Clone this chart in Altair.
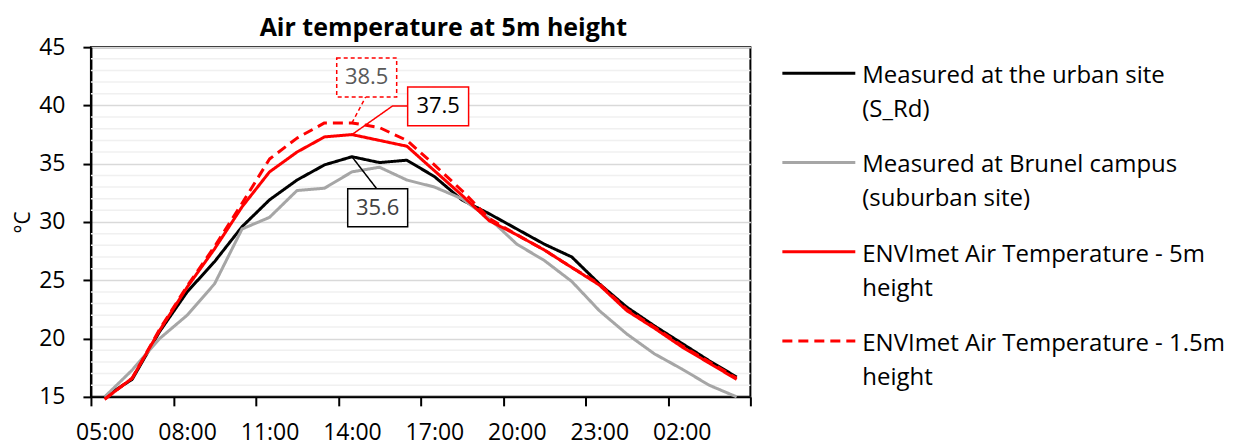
import altair as alt
import pandas as pd

# ---------------- data ----------------
hours = ["05:00", "06:00", "07:00", "08:00", "09:00", "10:00", "11:00", "12:00",
         "13:00", "14:00", "15:00", "16:00", "17:00", "18:00", "19:00", "20:00",
         "21:00", "22:00", "23:00", "00:00", "01:00", "02:00", "03:00", "04:00"]

urban = [15.0, 16.5, 20.6, 24.0, 26.6, 29.6, 31.9, 33.6, 34.9, 35.6, 35.1, 35.3,
         33.9, 31.9, 30.7, 29.4, 28.1, 27.0, 24.7, 22.7, 21.1, 19.6, 18.1, 16.7]
brunel = [15.0, 17.3, 20.0, 22.0, 24.7, 29.4, 30.4, 32.7, 32.9, 34.3, 34.7, 33.6,
          33.0, 32.0, 30.3, 28.1, 26.7, 24.9, 22.4, 20.4, 18.7, 17.4, 16.0, 15.0]
envi5 = [14.8, 16.6, 20.7, 24.4, 27.7, 31.3, 34.3, 36.0, 37.3, 37.5, 37.0, 36.5,
         34.4, 32.3, 30.1, 28.9, 27.6, 26.1, 24.6, 22.4, 20.9, 19.3, 17.9, 16.5]
envi15 = [14.8, 16.6, 20.8, 24.5, 27.9, 31.6, 35.4, 37.2, 38.5, 38.5, 38.1, 37.0,
          34.9, 32.7, 30.3, 28.9, 27.6, 26.1, 24.7, 22.5, 21.0, 19.4, 18.0, 16.6]

series_names = ["Measured at the urban site (S_Rd)",
                "Measured at Brunel campus (suburban site)",
                "ENVImet Air Temperature - 5m height",
                "ENVImet Air Temperature - 1.5m height"]
legend_labels = ["Measured at the urban site\n(S_Rd)",
                 "Measured at Brunel campus\n(suburban site)",
                 "ENVImet Air Temperature - 5m\nheight",
                 "ENVImet Air Temperature - 1.5m\nheight"]

y_major = [15, 20, 25, 30, 35, 40, 45]
y_minor = [v for v in range(16, 45) if v % 5]

# callouts: text, anchor hour index, anchor value
ann_text = ["38.5", "37.5", "35.6"]
ann_hour = [9, 9, 9]
ann_value = [38.5, 37.5, 35.6]

# ---------------- styles / layout ----------------
series_colors = ["#000000", "#A6A6A6", "#FF0000", "#FF0000"]
series_dash = [[1, 0], [1, 0], [1, 0], [10, 6]]
ann_box_x = [(8.445, 10.627), (11.027, 13.245), (8.845, 11.027)]
ann_box_y = [(44.07, 40.73), (41.59, 38.25), (32.85, 29.59)]
ann_path = [[(9.50, 40.73)], [(10.48, 39.96), (11.027, 39.96)], [(9.90, 32.85)]]
ann_stroke = ["#FF0000", "#FF0000", "#000000"]
ann_dash = [[4, 3], [1, 0], [1, 0]]
ann_textcolor = ["#595959", "#000000", "#404040"]

FONT = "Open Sans"
W, H = 660, 350

rows = []
for name, vals in zip(series_names, [urban, brunel, envi5, envi15]):
    for i, (h, v) in enumerate(zip(hours, vals)):
        rows.append({"idx": i, "hour": h, "series": name, "value": v})
df = pd.DataFrame(rows)

tick_vals = [-0.5 + 3 * k for k in range(9)]
tick_labels = hours[0::3]
label_expr = ("datum.value > 23 ? '' : " + str(tick_labels).replace('"', "'")
              + "[round((datum.value + 0.5) / 3)]")

xscale = alt.Scale(domain=[-0.5, 23.5], nice=False, zero=False)
yscale = alt.Scale(domain=[15, 45], nice=False, zero=False)
color_scale = alt.Scale(domain=series_names, range=series_colors)
dash_scale = alt.Scale(domain=series_names, range=series_dash)

x_axis = alt.Axis(values=tick_vals, labelExpr=label_expr, labelOffset=13.75,
                  title=None, grid=False, domainColor="#000", domainWidth=2,
                  tickColor="#000", tickWidth=2, tickSize=9, labelFont=FONT,
                  labelFontSize=23, labelColor="#000", labelPadding=16,
                  labelFlush=False)
y_axis = alt.Axis(values=y_major, title="°C",
                  grid=True, gridColor="#D9D9D9", gridWidth=1.5,
                  domainColor="#000", domainWidth=2, tickColor="#000",
                  tickWidth=2, tickSize=8, labelFont=FONT, labelFontSize=23,
                  labelColor="#000", labelPadding=18, titleFont=FONT,
                  titleFontSize=21, titleFontWeight="normal", titleColor="#000",
                  titlePadding=5, labelFlush=False)


def X(field):
    return alt.X(field, scale=xscale, axis=x_axis)


def Y(field):
    return alt.Y(field, scale=yscale, axis=y_axis)


minor_grid = alt.Chart(pd.DataFrame({"g": y_minor})).mark_rule(
    color="#F0F0F0", strokeWidth=1.5).encode(y=Y("g:Q"))

lines = alt.Chart(df).mark_line(strokeWidth=3, strokeJoin="round").encode(
    x=X("idx:Q"),
    y=Y("value:Q"),
    color=alt.Color("series:N", scale=color_scale, legend=None, sort=series_names),
    strokeDash=alt.StrokeDash("series:N", scale=dash_scale, legend=None, sort=series_names),
)

ann_layers = []
for k in range(len(ann_text)):
    pts = [(ann_hour[k], ann_value[k])] + ann_path[k]
    lead = pd.DataFrame({"x": [p[0] for p in pts], "y": [p[1] for p in pts],
                         "o": list(range(len(pts)))})
    ann_layers.append(
        alt.Chart(lead).mark_line(color=ann_stroke[k], strokeWidth=1.5,
                                  strokeDash=ann_dash[k]).encode(
            x=X("x:Q"), y=Y("y:Q"), order="o:Q")
    )
    box = pd.DataFrame({"x1": [ann_box_x[k][0]], "x2": [ann_box_x[k][1]],
                        "y1": [ann_box_y[k][0]], "y2": [ann_box_y[k][1]],
                        "xc": [sum(ann_box_x[k]) / 2], "yc": [sum(ann_box_y[k]) / 2],
                        "t": [ann_text[k]]})
    ann_layers.append(
        alt.Chart(box).mark_rect(fill="white", stroke=ann_stroke[k], strokeWidth=1.5,
                                 strokeDash=ann_dash[k]).encode(
            x=X("x1:Q"), x2="x2:Q", y=Y("y1:Q"), y2="y2:Q")
    )
    ann_layers.append(
        alt.Chart(box).mark_text(font=FONT, fontSize=22, color=ann_textcolor[k],
                                 align="center", baseline="middle").encode(
            x=X("xc:Q"), y=Y("yc:Q"), text="t:N")
    )

plot = alt.layer(minor_grid, lines, *ann_layers).properties(
    width=W, height=H,
    view=alt.ViewBackground(stroke="#000000", strokeWidth=2),
)

leg_df = pd.DataFrame({"series": series_names, "label": legend_labels})
leg_scale = alt.Scale(type="point", domain=series_names, range=[26, 294], padding=0)
leg_rule = alt.Chart(leg_df).mark_rule(strokeWidth=3).encode(
    x=alt.value(0), x2=alt.value(73),
    y=alt.Y("series:N", scale=leg_scale, axis=None),
    color=alt.Color("series:N", scale=color_scale, legend=None, sort=series_names),
    strokeDash=alt.StrokeDash("series:N", scale=dash_scale, legend=None, sort=series_names),
)
leg_text = alt.Chart(leg_df).mark_text(font=FONT, fontSize=24, align="left",
                                       baseline="top", lineBreak="\n",
                                       lineHeight=34, dy=-9, color="#000").encode(
    x=alt.value(80),
    y=alt.Y("series:N", scale=leg_scale, axis=None),
    text="label:N",
)
legend = alt.layer(leg_rule, leg_text).properties(
    width=360, height=H,
    view=alt.ViewBackground(strokeWidth=0, strokeOpacity=0),
)

chart = alt.hconcat(plot, legend, spacing=32, bounds="flush").properties(
    title=alt.TitleParams("Air temperature at 5m height", font=FONT, fontSize=25,
                          fontWeight="bold", color="#000", anchor="start",
                          align="center", dx=432, offset=-6),
    padding={"left": 3, "top": 8, "right": 0, "bottom": 0},
).configure_view(strokeWidth=0)

chart.save("out.html", embed_options={"renderer": "svg", "actions": False})
